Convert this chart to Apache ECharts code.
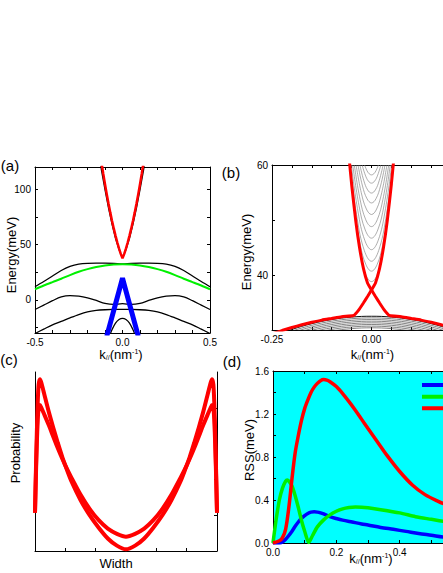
<!DOCTYPE html>
<html>
<head>
<meta charset="utf-8">
<script src="https://cdn.jsdelivr.net/npm/echarts@6/dist/echarts.min.js"></script>
<style>
  html, body { margin: 0; padding: 0; background: #fff; overflow: hidden; }
  /* 画布比窗口宽：(b)(d) 两幅图右侧本来就被裁掉 */
  #chart { width: 500px; height: 573px; }
</style>
</head>
<body>
<div id="chart"></div>
<script>
// ---------- (a) bands vs k ----------
var aK = [-0.5,-0.45,-0.4,-0.35,-0.3,-0.25,-0.2,-0.15,-0.1,-0.05,0,0.05,0.1,0.15,0.2,0.25,0.3,0.35,0.4,0.45,0.5];
var aGreen    = [9.5,12.9,16.0,19.0,22.3,25.3,27.7,29.6,31.0,31.8,32.1,31.8,31.0,29.6,27.7,25.3,22.3,19.0,16.0,12.9,9.5];
var aBlackTop = [11.8,16.5,21.5,26.5,30.2,32.3,33.0,33.1,33.1,33.0,32.5,33.0,33.1,33.1,33.0,32.3,30.2,26.5,21.5,16.5,11.8];
var aBlackMid = [-8.8,-4.8,-0.8,2.6,3.8,3.3,1.8,-0.6,-3.2,-4.2,-3.5,-4.2,-3.2,-0.6,1.8,3.3,3.8,2.6,-0.8,-4.8,-8.8];
var aBlackLow = [-30.5,-26.5,-22.6,-19.5,-16.3,-13.3,-10.9,-9.6,-9.0,-8.7,-8.7,-8.7,-9.0,-9.6,-10.9,-13.3,-16.3,-19.5,-22.6,-26.5,-30.5];
var aVK      = [-0.125,-0.12,-0.1,-0.08,-0.06,-0.04,-0.02,0,0.02,0.04,0.06,0.08,0.1,0.12,0.125];
var aBlackV  = [122,117,99.5,83,68.5,55.5,45.5,38,45.5,55.5,68.5,83,99.5,117,122];
var aRK  = [-0.12,-0.11,-0.1,-0.09,-0.08,-0.07,-0.06,-0.05,-0.04,-0.03,-0.02,-0.01,0,0.01,0.02,0.03,0.04,0.05,0.06,0.07,0.08,0.09,0.1,0.11,0.12];
var aRed = [124,114,104.5,95.5,87,79,71.5,64.5,58,52,46.5,41.5,37.5,41.5,46.5,52,58,64.5,71.5,79,87,95.5,104.5,114,124];
var aDK   = [-0.07,-0.06,-0.04,-0.02,0,0.02,0.04,0.06,0.07];
var aDome = [-31,-27,-21,-17.8,-16.7,-17.8,-21,-27,-31];
var aBK   = [-0.09,-0.06,-0.04,-0.02,0,0.02,0.04,0.06,0.09];
var aBlue = [-32.9,-15.4,-3.8,7.9,19.5,7.9,-3.8,-15.4,-32.9];
var aXLabels = [-0.5, 0, 0.5];
var aXTicks  = [-0.4,-0.3,-0.2,-0.1,0,0.1,0.2,0.3,0.4];
var aYLabels = [0, 50, 100];
var aYTicks  = [-25,0,25,50,75,100];

// ---------- (b) zoom near the crossing ----------
var bRed1K = [-0.25,-0.225,-0.2,-0.175,-0.15,-0.125,-0.1,-0.075,-0.045,-0.04,-0.03,-0.02,-0.01,0,0.01,0.02,0.03,0.04,0.05,0.056];
var bRed2K = [0.25,0.225,0.2,0.175,0.15,0.125,0.1,0.075,0.045,0.04,0.03,0.02,0.01,0,-0.01,-0.02,-0.03,-0.04,-0.05,-0.056];
var bRedE  = [29.3,29.9,30.45,30.95,31.4,31.8,32.1,32.4,32.65,32.95,33.85,34.95,36.1,37.3,38.55,41.1,44.95,50.1,56.55,61.1];
// conduction subbands: [k, E]
var bSub1  = [[-0.0173,60],[-0.0116,59.0],[-0.0058,58.4],[0,58.2],[0.0058,58.4],[0.0116,59.0],[0.0173,60]];
var bSub2  = [[-0.0235,60],[-0.0156,58.17],[-0.0078,57.07],[0,56.7],[0.0078,57.07],[0.0156,58.17],[0.0235,60]];
var bSub3  = [[-0.0292,60],[-0.0194,57.17],[-0.0097,55.47],[0,54.9],[0.0097,55.47],[0.0194,57.17],[0.0292,60]];
var bSub4  = [[-0.0339,60],[-0.0226,56.17],[-0.0113,53.87],[0,53.1],[0.0113,53.87],[0.0226,56.17],[0.0339,60]];
var bSub5  = [[-0.0387,60],[-0.0258,55.0],[-0.0129,52.0],[0,51.0],[0.0129,52.0],[0.0258,55.0],[0.0387,60]];
var bSub6  = [[-0.0432,60],[-0.0288,53.78],[-0.0144,50.04],[0,48.8],[0.0144,50.04],[0.0288,53.78],[0.0432,60]];
var bSub7  = [[-0.0471,60],[-0.0314,52.62],[-0.0157,48.18],[0,46.7],[0.0157,48.18],[0.0314,52.62],[0.0471,60]];
var bSub8  = [[-0.0507,60],[-0.0338,51.45],[-0.0169,46.31],[0,44.6],[0.0169,46.31],[0.0338,51.45],[0.0507,60]];
var bSub9  = [[-0.054,60],[-0.036,50.28],[-0.018,44.44],[0,42.5],[0.018,44.44],[0.036,50.28],[0.054,60]];
var bSub10 = [[-0.042,51.3],[-0.028,45.4],[-0.014,41.88],[0,40.7],[0.014,41.88],[0.028,45.4],[0.042,51.3]];
var bSub11 = [[-0.0212,41.5],[-0.0141,40.0],[-0.0071,39.1],[0,38.8],[0.0071,39.1],[0.0141,40.0],[0.0212,41.5]];
// valence subbands on a shared k grid
var bArcK = [-0.25,-0.2,-0.15,-0.1,-0.05,0,0.05,0.1,0.15,0.2,0.25];
var bArc1 = [28.75,30.1,31.15,31.9,32.35,32.5,32.35,31.9,31.15,30.1,28.75];
var bArc2 = [28.45,29.8,30.85,31.6,32.05,32.2,32.05,31.6,30.85,29.8,28.45];
var bArc3 = [28.15,29.5,30.55,31.3,31.75,31.9,31.75,31.3,30.55,29.5,28.15];
var bArc4 = [27.85,29.2,30.25,31.0,31.45,31.6,31.45,31.0,30.25,29.2,27.85];
var bArc5 = [27.55,28.9,29.95,30.7,31.15,31.3,31.15,30.7,29.95,28.9,27.55];
var bArc6 = [27.25,28.6,29.65,30.4,30.85,31.0,30.85,30.4,29.65,28.6,27.25];
var bArc7 = [26.95,28.3,29.35,30.1,30.55,30.7,30.55,30.1,29.35,28.3,26.95];
var bArc8 = [26.65,28.0,29.05,29.8,30.25,30.4,30.25,29.8,29.05,28.0,26.65];
var bXLabels = [-0.25, 0];
var bXTicks  = [-0.2,-0.15,-0.1,-0.05,0,0.05,0.1,0.15,0.2];
var bYLabels = [40, 60];
var bYTicks  = [40, 50];

// ---------- (c) probability across the width ----------
var cX  = [0,0.005,0.01,0.015,0.02,0.027,0.035,0.05,0.075,0.1,0.125,0.15,0.175,0.2,0.25,0.3,0.35,0.4,0.45,0.5,
           0.55,0.6,0.65,0.7,0.75,0.8,0.825,0.85,0.875,0.9,0.925,0.95,0.965,0.973,0.98,0.985,0.99,0.995,1.0];
var cP1 = [0.214,0.45,0.66,0.83,0.93,0.96,0.94,0.88,0.78,0.69,0.605,0.525,0.455,0.39,0.285,0.2,0.13,0.07,0.03,0.0095,
           0.03,0.07,0.13,0.2,0.285,0.39,0.455,0.525,0.605,0.69,0.78,0.88,0.94,0.96,0.93,0.83,0.66,0.45,0.214];
var cP2 = [0.214,0.42,0.6,0.73,0.8,0.815,0.8,0.765,0.705,0.64,0.575,0.515,0.46,0.41,0.315,0.235,0.172,0.125,0.096,0.08,
           0.096,0.125,0.172,0.235,0.315,0.41,0.46,0.515,0.575,0.64,0.705,0.765,0.8,0.815,0.8,0.73,0.6,0.42,0.214];
var cXTicks = [0.1667,0.3333,0.5,0.6667,0.8333];
var cYTicks = [0.2,0.4,0.6,0.8];

// ---------- (d) RSS vs k ----------
var dNames = ['n=1', 'n=2', 'n=3'];
var dBlueK = [0,0.02,0.03,0.04,0.05,0.06,0.07,0.08,0.09,0.1,0.11,0.12,0.13,0.14,0.15,0.16,0.18,0.2,0.22,0.25,0.28,0.3,0.34,0.38,0.42,0.46,0.5,0.54,0.6];
var dBlue  = [0,0,0.01,0.035,0.07,0.11,0.155,0.195,0.23,0.255,0.275,0.287,0.29,0.287,0.28,0.27,0.245,0.228,0.213,0.195,0.177,0.167,0.145,0.127,0.108,0.088,0.072,0.055,0.04];
var dGreenK = [0,0.01,0.02,0.03,0.04,0.045,0.05,0.06,0.07,0.08,0.09,0.1,0.113,0.125,0.14,0.16,0.18,0.2,0.22,0.24,0.26,0.28,0.3,0.34,0.4,0.45,0.5,0.55,0.6];
var dGreen  = [0,0.22,0.4,0.51,0.575,0.585,0.575,0.53,0.44,0.33,0.21,0.11,0.005,0.07,0.15,0.215,0.262,0.295,0.318,0.33,0.335,0.333,0.327,0.31,0.28,0.245,0.22,0.195,0.17];
var dRedK = [0,0.02,0.03,0.04,0.05,0.06,0.07,0.08,0.09,0.1,0.11,0.12,0.13,0.14,0.15,0.16,0.17,0.18,0.2,0.22,0.24,0.26,0.28,0.3,0.33,0.36,0.4,0.44,0.48,0.52,0.56,0.6];
var dRed  = [0,0.02,0.05,0.13,0.33,0.6,0.84,1.0,1.14,1.25,1.33,1.4,1.45,1.485,1.51,1.52,1.515,1.5,1.455,1.39,1.315,1.235,1.15,1.065,0.94,0.815,0.665,0.54,0.45,0.39,0.34,0.3];
var dXLabels = [0, 0.2, 0.4];
var dXTicks  = [0,0.1,0.2,0.3,0.4,0.5];
var dYLabels = [0, 0.4, 0.8, 1.2, 1.6];
var dYTicks  = [0,0.2,0.4,0.6,0.8,1.0,1.2,1.4];

var FONT = '"Liberation Sans", Arial, sans-serif';

function pairs(xs, ys) {
  return xs.map(function (x, i) { return [x, ys[i]]; });
}

// 坐标轴：刻度朝内，不贴零线
function axis(grid, min, max, pos, ticks, labels, digits) {
  return {
    type: 'value', gridIndex: grid, min: min, max: max, position: pos,
    axisLine: { show: true, onZero: false, lineStyle: { color: '#000', width: 1 } },
    axisTick: ticks ? { show: true, inside: true, length: 3, customValues: ticks, lineStyle: { color: '#000' } } : { show: false },
    axisLabel: labels ? {
      show: true, customValues: labels, color: '#000', fontSize: 10, fontFamily: FONT, margin: 4,
      formatter: function (v) { return Number(v).toFixed(digits); }
    } : { show: false },
    splitLine: { show: false }
  };
}

function line(name, xi, yi, data, color, width, smooth) {
  return {
    name: name, type: 'line', xAxisIndex: xi, yAxisIndex: yi, data: data,
    showSymbol: false, symbol: 'none', smooth: smooth || false,
    lineStyle: { color: color, width: width }, itemStyle: { color: color },
    clip: true, silent: true, animation: false
  };
}

// 图例只画色条，文字在画面之外
function legendItem(name, top) {
  return {
    data: [name], left: 422, top: top, padding: 0,
    icon: 'rect', itemWidth: 40, itemHeight: 4,
    formatter: function () { return ''; },
    textStyle: { fontSize: 1 }, selectedMode: false
  };
}

var kTitle = {
  k: { fontSize: 13, fontFamily: FONT, color: '#000' },
  s: { fontSize: 7, fontFamily: FONT, color: '#000', verticalAlign: 'bottom' },
  p: { fontSize: 7, fontFamily: FONT, color: '#000', verticalAlign: 'top' }
};
var kText = '{k|k}{s|//}{k|(nm}{p|-1}{k|)}';

function txt(x, y, text, size, rot, rich) {
  return {
    type: 'text', x: x, y: y, rotation: rot || 0, silent: true,
    style: {
      text: text, fill: '#000', fontSize: size, fontFamily: FONT,
      textAlign: 'center', textVerticalAlign: 'middle', rich: rich
    }
  };
}

var chart = echarts.init(document.getElementById('chart'), null, { renderer: 'svg' });

var greyB = '#8a8a8a', darkB = '#505050';

var option = {
  animation: false,
  backgroundColor: '#fff',
  grid: [
    { left: 35, top: 167, width: 175, height: 166, outerBoundsMode: 'none' },
    { left: 272, top: 165, width: 199, height: 165, outerBoundsMode: 'none' },
    { left: 35, top: 372, width: 182, height: 179, outerBoundsMode: 'none' },
    { left: 273, top: 371, width: 190, height: 172, outerBoundsMode: 'none',
      show: true, backgroundColor: '#00ffff', borderWidth: 0 }
  ],
  xAxis: [
    axis(0, -0.5, 0.5, 'bottom', aXTicks, aXLabels, 1),
    axis(0, -0.5, 0.5, 'top', aXTicks, null),
    axis(1, -0.25, 0.25, 'bottom', bXTicks, bXLabels, 2),
    axis(1, -0.25, 0.25, 'top', bXTicks, null),
    axis(2, 0, 1, 'bottom', cXTicks, null),
    axis(3, 0, 0.6, 'bottom', dXTicks, dXLabels, 1),
    axis(3, 0, 0.6, 'top', dXTicks, null)
  ],
  yAxis: [
    axis(0, -30, 120, 'left', aYTicks, aYLabels, 0),
    axis(0, -30, 120, 'right', aYTicks, null),
    axis(1, 30, 60, 'left', bYTicks, bYLabels, 0),
    axis(1, 30, 60, 'right', bYTicks, null),
    axis(2, 0, 1, 'left', null, null),
    axis(2, 0, 1, 'right', cYTicks, null),
    axis(3, 0, 1.6, 'left', dYTicks, dYLabels, 1),
    axis(3, 0, 1.6, 'right', dYTicks, null)
  ],
  legend: [
    legendItem(dNames[0], 383),
    legendItem(dNames[1], 394.7),
    legendItem(dNames[2], 406.3)
  ],
  series: [
    // (a)
    line('a1', 0, 0, pairs(aK, aBlackTop), '#000', 1.3, 0.3),
    line('a2', 0, 0, pairs(aK, aBlackMid), '#000', 1.3, 0.3),
    line('a3', 0, 0, pairs(aK, aBlackLow), '#000', 1.3, 0.3),
    line('a4', 0, 0, pairs(aDK, aDome), '#000', 1.3, 0.3),
    line('a5', 0, 0, pairs(aVK, aBlackV), '#000', 1.3, false),
    line('a6', 0, 0, pairs(aK, aGreen), '#00f000', 2, 0.3),
    line('a7', 0, 0, pairs(aBK, aBlue), '#0000ff', 5, false),
    line('a8', 0, 0, pairs(aRK, aRed), '#ff0000', 2.5, false),
    // (b)
    line('b1', 2, 2, pairs(bArcK, bArc8), darkB, 0.7, 0.4),
    line('b2', 2, 2, pairs(bArcK, bArc7), darkB, 0.7, 0.4),
    line('b3', 2, 2, pairs(bArcK, bArc6), darkB, 0.7, 0.4),
    line('b4', 2, 2, pairs(bArcK, bArc5), darkB, 0.7, 0.4),
    line('b5', 2, 2, pairs(bArcK, bArc4), darkB, 0.7, 0.4),
    line('b6', 2, 2, pairs(bArcK, bArc3), darkB, 0.7, 0.4),
    line('b7', 2, 2, pairs(bArcK, bArc2), darkB, 0.7, 0.4),
    line('b8', 2, 2, pairs(bArcK, bArc1), '#111', 1, 0.4),
    line('b9', 2, 2, bSub1, greyB, 0.7, 0.4),
    line('b10', 2, 2, bSub2, greyB, 0.7, 0.4),
    line('b11', 2, 2, bSub3, greyB, 0.7, 0.4),
    line('b12', 2, 2, bSub4, greyB, 0.7, 0.4),
    line('b13', 2, 2, bSub5, greyB, 0.7, 0.4),
    line('b14', 2, 2, bSub6, greyB, 0.7, 0.4),
    line('b15', 2, 2, bSub7, greyB, 0.7, 0.4),
    line('b16', 2, 2, bSub8, greyB, 0.7, 0.4),
    line('b17', 2, 2, bSub9, greyB, 0.7, 0.4),
    line('b18', 2, 2, bSub10, greyB, 0.7, 0.4),
    line('b19', 2, 2, bSub11, greyB, 0.7, 0.4),
    line('b20', 2, 2, pairs(bRed1K, bRedE), '#ff0000', 3, 0.2),
    line('b21', 2, 2, pairs(bRed2K, bRedE), '#ff0000', 3, 0.2),
    // (c)
    line('c1', 4, 4, pairs(cX, cP1), '#ff0000', 4, 0.25),
    line('c2', 4, 4, pairs(cX, cP2), '#ff0000', 4, 0.25),
    // (d)
    line(dNames[0], 5, 6, pairs(dBlueK, dBlue), '#0000ff', 3.5, 0.3),
    line(dNames[1], 5, 6, pairs(dGreenK, dGreen), '#00f000', 3.5, 0.25),
    line(dNames[2], 5, 6, pairs(dRedK, dRed), '#ff0000', 3.5, 0.3)
  ],
  graphic: [
    txt(10, 165, '(a)', 15),
    txt(231, 172, '(b)', 15),
    txt(9, 359, '(c)', 15),
    txt(232, 361, '(d)', 15),
    txt(11, 255, 'Energy(meV)', 13, Math.PI / 2),
    txt(246.5, 252, 'Energy(meV)', 13, Math.PI / 2),
    txt(15.5, 453, 'Probability', 13, Math.PI / 2),
    txt(249.5, 450, 'RSS(meV)', 13, Math.PI / 2),
    txt(121, 354, kText, 13, 0, kTitle),
    txt(372.5, 354, kText, 13, 0, kTitle),
    txt(116, 563, 'Width', 13),
    txt(371, 558, kText, 13, 0, kTitle)
  ]
};

chart.setOption(option);
</script>
</body>
</html>
